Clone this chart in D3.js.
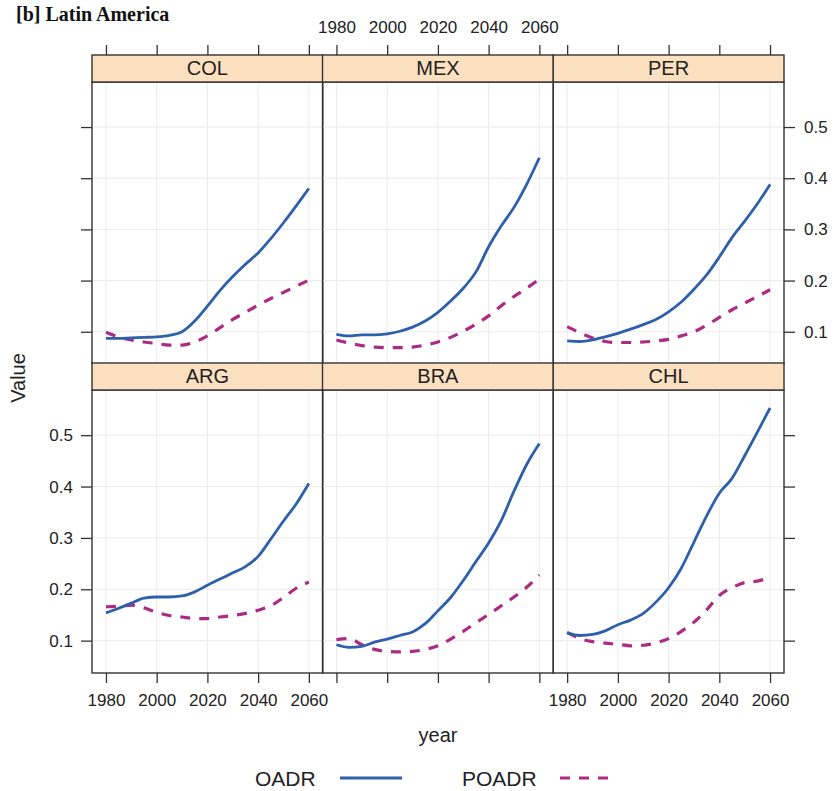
<!DOCTYPE html>
<html>
<head>
<meta charset="utf-8">
<script src="https://cdn.jsdelivr.net/npm/d3@7"></script>
<style>
body { margin: 0; background: #fff; }
text { font-family: "Liberation Sans", Arial, sans-serif; fill: #222; }
</style>
</head>
<body>
<svg width="834" height="791"></svg>
<script>
// years sampled every 5 years
const years = [1980, 1985, 1990, 1995, 2000, 2005, 2010, 2015, 2020, 2025, 2030, 2035, 2040, 2045, 2050, 2055, 2060];

// panel order: top row then bottom row
const countries = ['COL', 'MEX', 'PER', 'ARG', 'BRA', 'CHL'];

const oadrCOL = [0.087, 0.087, 0.088, 0.089, 0.090, 0.093, 0.100, 0.121, 0.150, 0.181, 0.208, 0.232, 0.254, 0.282, 0.313, 0.346, 0.380];
const poadrCOL = [0.099, 0.090, 0.084, 0.080, 0.077, 0.074, 0.074, 0.080, 0.092, 0.108, 0.124, 0.138, 0.152, 0.165, 0.177, 0.189, 0.201];

const oadrMEX = [0.095, 0.092, 0.094, 0.094, 0.096, 0.101, 0.109, 0.121, 0.138, 0.160, 0.185, 0.217, 0.266, 0.307, 0.343, 0.388, 0.440];
const poadrMEX = [0.084, 0.078, 0.073, 0.070, 0.069, 0.069, 0.070, 0.074, 0.080, 0.089, 0.101, 0.115, 0.131, 0.151, 0.169, 0.185, 0.203];

const oadrPER = [0.082, 0.081, 0.084, 0.090, 0.097, 0.105, 0.114, 0.124, 0.139, 0.158, 0.183, 0.211, 0.246, 0.284, 0.316, 0.350, 0.388];
const poadrPER = [0.110, 0.098, 0.088, 0.081, 0.079, 0.079, 0.080, 0.082, 0.085, 0.092, 0.100, 0.113, 0.128, 0.143, 0.156, 0.169, 0.182];

const oadrARG = [0.154, 0.163, 0.173, 0.183, 0.185, 0.185, 0.187, 0.195, 0.208, 0.220, 0.232, 0.244, 0.264, 0.298, 0.333, 0.366, 0.406];
const poadrARG = [0.166, 0.167, 0.169, 0.164, 0.155, 0.149, 0.146, 0.143, 0.143, 0.146, 0.149, 0.153, 0.159, 0.168, 0.184, 0.202, 0.214];

const oadrBRA = [0.092, 0.087, 0.089, 0.097, 0.103, 0.110, 0.117, 0.133, 0.158, 0.184, 0.217, 0.254, 0.290, 0.334, 0.391, 0.443, 0.484];
const poadrBRA = [0.102, 0.104, 0.092, 0.083, 0.079, 0.078, 0.079, 0.083, 0.090, 0.103, 0.118, 0.135, 0.151, 0.168, 0.185, 0.204, 0.228];

const oadrCHL = [0.115, 0.110, 0.112, 0.119, 0.131, 0.140, 0.153, 0.175, 0.203, 0.241, 0.292, 0.343, 0.387, 0.416, 0.460, 0.506, 0.553];
const poadrCHL = [0.116, 0.104, 0.098, 0.095, 0.093, 0.090, 0.091, 0.096, 0.104, 0.118, 0.136, 0.160, 0.188, 0.203, 0.213, 0.216, 0.223];

const oadrAll = [oadrCOL, oadrMEX, oadrPER, oadrARG, oadrBRA, oadrCHL];
const poadrAll = [poadrCOL, poadrMEX, poadrPER, poadrARG, poadrBRA, poadrCHL];

const yearTicks = [1980, 2000, 2020, 2040, 2060];
const valueTicks = [0.1, 0.2, 0.3, 0.4, 0.5];
const seriesNames = ['OADR', 'POADR'];

const oadrColor = '#2d5fab';
const poadrColor = '#ab2a84';
const borderColor = '#333';

const svg = d3.select('svg');

// panel layout
const colLeft = [92, 322.5, 553.2];
const colW = 230.8;
const rowTop = [82, 390];
const rowBottom = [364, 673];
const stripH = 27;

// title
svg.append('text')
    .attr('x', 16)
    .attr('y', 21)
    .style('font-family', '"Liberation Serif", "Times New Roman", serif')
    .style('font-weight', 'bold')
    .style('font-size', '20px')
    .style('fill', '#111')
    .text('[b] Latin America');

countries.forEach((name, i) => {
    const row = Math.floor(i / 3);
    const col = i % 3;
    const left = colLeft[col];
    const top = rowTop[row];
    const bottom = rowBottom[row];

    const x = d3.scaleLinear().domain([1974.5, 2065.5]).range([left, left + colW]);
    const y = d3.scaleLinear().domain([0.037, 0.588]).range([bottom, top]);

    const g = svg.append('g');

    // grid
    g.selectAll('.vgrid').data(yearTicks).enter().append('line')
        .attr('x1', d => x(d)).attr('x2', d => x(d))
        .attr('y1', top).attr('y2', bottom)
        .attr('stroke', '#ebebeb').attr('stroke-width', 1);
    g.selectAll('.hgrid').data(valueTicks).enter().append('line')
        .attr('x1', left).attr('x2', left + colW)
        .attr('y1', d => y(d)).attr('y2', d => y(d))
        .attr('stroke', '#ebebeb').attr('stroke-width', 1);

    // series
    const line = d3.line()
        .x(d => x(d[0]))
        .y(d => y(d[1]))
        .curve(d3.curveMonotoneX);

    const oadr = years.map((yr, k) => [yr, oadrAll[i][k]]);
    const poadr = years.map((yr, k) => [yr, poadrAll[i][k]]);

    g.append('path')
        .attr('d', line(poadr))
        .attr('fill', 'none')
        .attr('stroke', poadrColor)
        .attr('stroke-width', 3.2)
        .attr('stroke-dasharray', '10,9');
    g.append('path')
        .attr('d', line(oadr))
        .attr('fill', 'none')
        .attr('stroke', oadrColor)
        .attr('stroke-width', 2.8);

    // panel border
    g.append('rect')
        .attr('x', left).attr('y', top)
        .attr('width', colW).attr('height', bottom - top)
        .attr('fill', 'none')
        .attr('stroke', borderColor)
        .attr('stroke-width', 1.4);

    // strip
    g.append('rect')
        .attr('x', left).attr('y', top - stripH)
        .attr('width', colW).attr('height', stripH)
        .attr('fill', '#fde0c0')
        .attr('stroke', borderColor)
        .attr('stroke-width', 1.4);
    g.append('text')
        .attr('x', left + colW / 2)
        .attr('y', top - 7)
        .attr('text-anchor', 'middle')
        .style('font-size', '20px')
        .text(name);

    // alternating axes, lattice style
    if (row === 0) {
        const ax = svg.append('g')
            .attr('transform', `translate(0,${top - stripH})`)
            .call(d3.axisTop(x).tickValues(yearTicks).tickSize(10).tickPadding(12)
                .tickFormat(col === 1 ? d3.format('d') : () => ''));
        styleAxis(ax);
    } else {
        const ax = svg.append('g')
            .attr('transform', `translate(0,${bottom})`)
            .call(d3.axisBottom(x).tickValues(yearTicks).tickSize(10).tickPadding(11)
                .tickFormat(col !== 1 ? d3.format('d') : () => ''));
        styleAxis(ax);
    }
    if (col === 0) {
        const ax = svg.append('g')
            .attr('transform', `translate(${left},0)`)
            .call(d3.axisLeft(y).tickValues(valueTicks).tickSize(11).tickPadding(8)
                .tickFormat(row === 1 ? d3.format('.1f') : () => ''));
        styleAxis(ax);
    }
    if (col === 2) {
        const ax = svg.append('g')
            .attr('transform', `translate(${left + colW},0)`)
            .call(d3.axisRight(y).tickValues(valueTicks).tickSize(11).tickPadding(9)
                .tickFormat(row === 0 ? d3.format('.1f') : () => ''));
        styleAxis(ax);
    }
});

function styleAxis(ax) {
    ax.select('.domain').remove();
    ax.selectAll('.tick line').attr('stroke', borderColor).attr('stroke-width', 1.3);
    ax.selectAll('.tick text')
        .style('font-family', '"Liberation Sans", Arial, sans-serif')
        .style('font-size', '17px')
        .attr('fill', '#222');
}

// axis titles
svg.append('text')
    .attr('x', 438)
    .attr('y', 742)
    .attr('text-anchor', 'middle')
    .style('font-size', '20px')
    .text('year');

svg.append('text')
    .attr('transform', 'translate(25,378) rotate(-90)')
    .attr('text-anchor', 'middle')
    .style('font-size', '20px')
    .text('Value');

// legend
const legendX = [255, 462];
const legendLine = [[340, 402], [560, 615]];
seriesNames.forEach((s, k) => {
    svg.append('text')
        .attr('x', legendX[k])
        .attr('y', 786)
        .style('font-size', '21px')
        .text(s);
    svg.append('line')
        .attr('x1', legendLine[k][0]).attr('x2', legendLine[k][1])
        .attr('y1', 778).attr('y2', 778)
        .attr('stroke', k === 0 ? oadrColor : poadrColor)
        .attr('stroke-width', 3)
        .attr('stroke-dasharray', k === 0 ? null : '10,9');
});
</script>
</body>
</html>
